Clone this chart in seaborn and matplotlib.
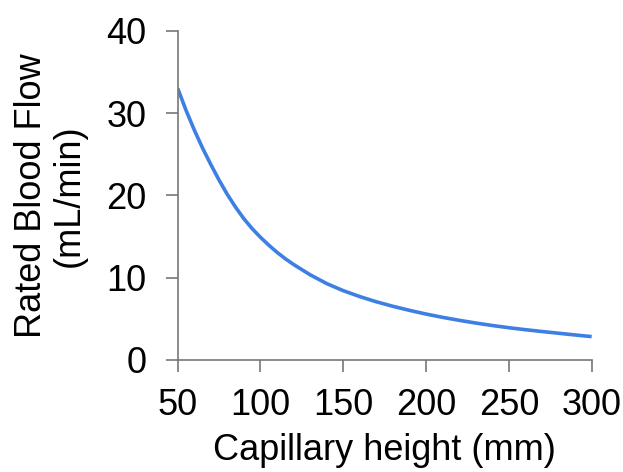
import matplotlib
matplotlib.use("Agg")
import matplotlib.pyplot as plt
import seaborn as sns
import pandas as pd

heights = [50, 55, 60, 65, 70, 75, 80, 85, 90, 95, 100, 105, 110, 115, 120,
           130, 140, 150, 160, 170, 180, 190, 200, 210, 220, 230, 240, 250,
           260, 270, 280, 290, 300]
flows = [33.0, 30.35, 27.95, 25.75, 23.75, 21.85, 20.1, 18.55, 17.15, 15.95,
         14.9, 13.95, 13.08, 12.3, 11.6, 10.35, 9.28, 8.42, 7.7, 7.07, 6.52,
         6.03, 5.58, 5.18, 4.82, 4.49, 4.19, 3.92, 3.68, 3.46, 3.25, 3.04,
         2.84]
x_ticks = [50, 100, 150, 200, 250, 300]
y_ticks = [0, 10, 20, 30, 40]

df = pd.DataFrame({"height": heights, "flow": flows})

sns.set_theme(style="ticks")
plt.rcParams["font.family"] = ["Liberation Sans", "DejaVu Sans"]

fig = plt.figure(figsize=(6.23, 4.72), dpi=100)
ax = fig.add_axes([0.2852, 0.2373, 0.9497 - 0.2852, 0.935 - 0.2373])

sns.lineplot(data=df, x="height", y="flow", ax=ax, color="#3D7FE3",
             linewidth=2.6, solid_capstyle="butt", solid_joinstyle="round")

ax.set_xlim(50, 300)
ax.set_ylim(0, 40)
ax.set_xticks(x_ticks)
ax.set_yticks(y_ticks)
for s in ["top", "right"]:
    ax.spines[s].set_visible(False)
for s in ["left", "bottom"]:
    ax.spines[s].set_color("#777777")
    ax.spines[s].set_linewidth(1.2)
ax.tick_params(axis="both", direction="out", length=8.5, width=1.2,
               color="#777777", labelsize=26, labelcolor="black", pad=14)
ax.tick_params(axis="x", pad=12)

ax.set_xlabel("Capillary height (mm)", fontsize=26, color="black", labelpad=7)
ax.set_ylabel("Rated Blood Flow\n(mL/min)", fontsize=26, color="black",
              labelpad=14, linespacing=1.1)

fig.savefig("out.png", dpi=100)
